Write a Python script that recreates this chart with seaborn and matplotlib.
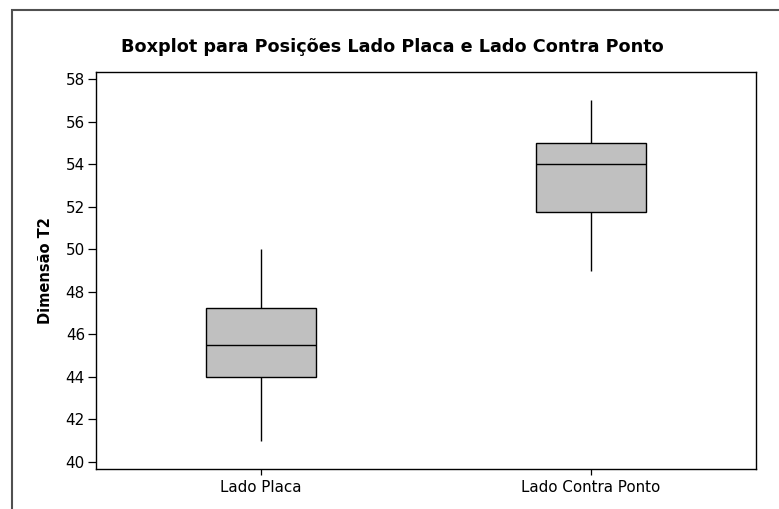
import matplotlib
matplotlib.use("Agg")
import matplotlib.pyplot as plt
from matplotlib.patches import Rectangle
import pandas as pd
import seaborn as sns

# Measurements of dimension T2 for each position (five-number summaries)
categories = ["Lado Placa", "Lado Contra Ponto"]
lado_placa = [41.0, 44.0, 45.5, 47.25, 50.0]
lado_contra_ponto = [49.0, 51.75, 54.0, 55.0, 57.0]
y_ticks = [40, 42, 44, 46, 48, 50, 52, 54, 56, 58]

df = pd.DataFrame({
    "Posição": [categories[0]] * len(lado_placa) + [categories[1]] * len(lado_contra_ponto),
    "Dimensão T2": lado_placa + lado_contra_ponto,
})

sns.set_style("white")
plt.rcParams["font.family"] = ["DejaVu Sans"]
plt.rcParams["text.color"] = "black"
plt.rcParams["axes.labelcolor"] = "black"
plt.rcParams["xtick.color"] = "black"
plt.rcParams["ytick.color"] = "black"

fig = plt.figure(figsize=(7.79, 5.09), dpi=100)
ax = fig.add_axes([96 / 779, 1 - 469 / 509, (756 - 96) / 779, (469 - 72) / 509])

sns.boxplot(
    data=df, x="Posição", y="Dimensão T2", order=categories, ax=ax,
    color="#c0c0c0", saturation=1, width=0.335, linecolor="black",
    linewidth=1.0, whis=1.5, showcaps=False, fliersize=0,
)

ax.set_xlim(-0.5, 1.5)
ax.set_ylim(39.67, 58.33)
ax.set_yticks(y_ticks)
ax.set_yticklabels([str(t) for t in y_ticks])
ax.set_xlabel("")
ax.set_ylabel("Dimensão T2", fontsize=10.5, fontweight="bold", labelpad=9, color="black")

for s in ax.spines.values():
    s.set_visible(True)
    s.set_color("black")
    s.set_linewidth(1.0)

ax.tick_params(axis="y", direction="out", length=6, width=0.9, colors="black",
               labelsize=10.9, pad=2, left=True)
ax.tick_params(axis="x", direction="out", length=4, width=0.9, colors="black",
               labelsize=10.9, pad=4, bottom=True)

fig.text(392 / 779, 1 - 47 / 509, "Boxplot para Posições Lado Placa e Lado Contra Ponto",
         ha="center", va="center", fontsize=12.7, fontweight="bold", color="black")

# Outer frame around the graph region
frame = Rectangle((12 / 779, -0.2), 1.2, 1 - 10 / 509 + 0.2, transform=fig.transFigure,
                  fill=False, edgecolor="#505050", linewidth=1.5, clip_on=False)
fig.patches.append(frame)

fig.savefig("out.png", dpi=100)
